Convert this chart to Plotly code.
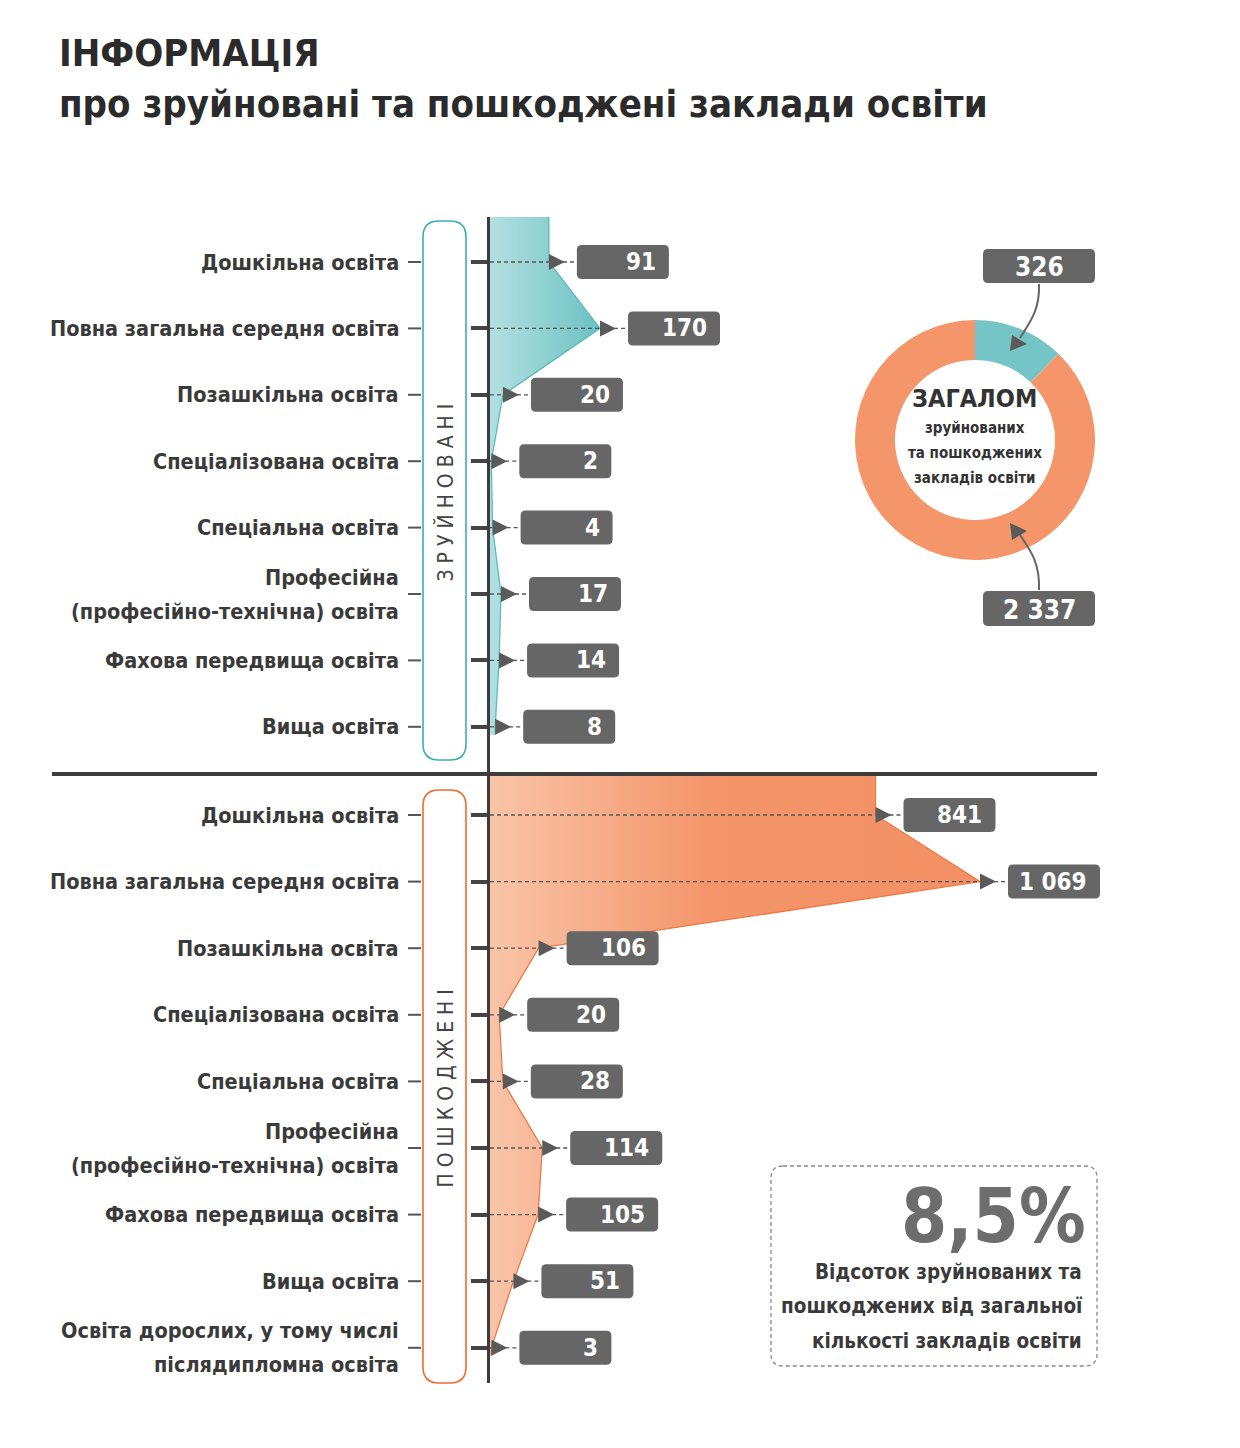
import plotly.graph_objects as go

W, H = 1240, 1448
PAGE_OFF = 8  # default body margin of the html page

# ---- data ----
categories_destroyed = [
    "Дошкільна освіта",
    "Повна загальна середня освіта",
    "Позашкільна освіта",
    "Спеціалізована освіта",
    "Спеціальна освіта",
    "Професійна<br>(професійно-технічна) освіта",
    "Фахова передвища освіта",
    "Вища освіта",
]
destroyed = [91, 170, 20, 2, 4, 17, 14, 8]

categories_damaged = categories_destroyed + [
    "Освіта дорослих, у тому числі<br>післядипломна освіта",
]
damaged = [841, 1069, 106, 20, 28, 114, 105, 51, 3]

share_text = "8,5%"
share_caption = ["Відсоток зруйнованих та", "пошкоджених від загальної", "кількості закладів освіти"]
donut_caption = ["зруйнованих", "та пошкоджених", "закладів освіти"]

TEAL = "#76c5c6"
ORANGE = "#f4956a"
DARK = "#3d3d3d"
BOX = "#666666"
FONT = "Liberation Sans Narrow, DejaVu Sans Condensed, Open Sans, sans-serif"


def px_x(p):
    return (p - PAGE_OFF) / W


def px_y(p):
    return 1 - (p - PAGE_OFF) / H


def fmt(v):
    return f"{v:,}".replace(",", " ")


def ppath(cmds):
    out = ""
    for cmd, *coords in cmds:
        xy = [f"{px_x(coords[i]):.5f},{px_y(coords[i + 1]):.5f}" for i in range(0, len(coords), 2)]
        out += cmd + " " + " ".join(xy) + " "
    return out


def rrect(x0, y0, x1, y1, r):
    # rounded rectangle in page pixels -> paper path
    return ppath([
        ("M", x0 + r, y0), ("L", x1 - r, y0), ("Q", x1, y0, x1, y0 + r),
        ("L", x1, y1 - r), ("Q", x1, y1, x1 - r, y1), ("L", x0 + r, y1),
        ("Q", x0, y1, x0, y1 - r), ("L", x0, y0 + r), ("Q", x0, y0, x0 + r, y0),
    ]) + "Z"


def note(x, y, text, size, color="#3a3a3a", xanchor="center", bold=True, **kw):
    return dict(x=px_x(x), y=px_y(y), xref="paper", yref="paper", text=text, showarrow=False,
                xanchor=xanchor, yanchor="middle",
                font=dict(family=FONT, size=size, color=color, weight="bold" if bold else "normal"), **kw)


fig = go.Figure()

# section geometry (pixels -> axis units)
sections = [
    dict(vals=destroyed, cats=categories_destroyed, xa="x", ya="y", top=217, bot=775,
         row0=262, step=66.4, unit=110 / 170, line="#5bbcbd",
         grad=[[0, "#b3e0e0"], [1, "#6cc1c2"]], frame="#3aafb0",
         side="З Р У Й Н О В А Н І", frame_y=(221, 760)),
    dict(vals=damaged, cats=categories_damaged, xa="x2", ya="y2", top=775, bot=1383,
         row0=815, step=66.6, unit=490 / 1069, line="#f07a45",
         grad=[[0, "#f9c4a8"], [0.45, "#f4956a"], [1, "#f39064"]], frame="#f06a2e",
         side="П О Ш К О Д Ж Е Н І", frame_y=(790, 1383)),
]

shapes = []
annotations = []
x0_px, x1_px = 490, 1110

for k, s in enumerate(sections):
    n = len(s["vals"])
    rows = list(range(n))
    y_top = (s["top"] - s["row0"]) / s["step"]
    y_bot = (s["bot"] - s["row0"]) / s["step"]
    x_max = (x1_px - x0_px) / s["unit"]
    sfx = "" if k == 0 else "2"
    fig.update_layout(**{
        "xaxis" + sfx: dict(domain=[px_x(x0_px), px_x(x1_px)], range=[0, x_max], anchor=s["ya"],
                            visible=False, fixedrange=True),
        "yaxis" + sfx: dict(domain=[px_y(s["bot"]), px_y(s["top"])], range=[y_bot, y_top],
                            anchor=s["xa"], tickvals=rows, showticklabels=False, ticks="outside",
                            ticklen=16, tickwidth=4, tickcolor="#444", showline=True, linewidth=3,
                            linecolor=DARK, showgrid=False, zeroline=False, fixedrange=True),
    })

    # filled shape
    px = [s["vals"][0]] + s["vals"] + [s["vals"][-1]]
    py = [y_top] + rows + [rows[-1] + 0.12]
    fig.add_trace(go.Scatter(
        x=px, y=py, xaxis=s["xa"], yaxis=s["ya"], mode="lines", fill="tozerox",
        fillgradient=dict(type="horizontal", colorscale=s["grad"]),
        line=dict(color=s["line"], width=1.3), hoverinfo="skip", showlegend=False))

    # dashed leaders
    lx, ly = [], []
    for r, v in zip(rows, s["vals"]):
        lx += [0, v, None]
        ly += [r, r, None]
    fig.add_trace(go.Scatter(
        x=lx, y=ly, xaxis=s["xa"], yaxis=s["ya"], mode="lines",
        line=dict(color="#555", width=1.3, dash="4px,3px"), hoverinfo="skip", showlegend=False))

    for r, v, c in zip(rows, s["vals"], s["cats"]):
        shapes.append(dict(type="line", xref=s["xa"], yref=s["ya"], xsizemode="pixel", xanchor=v,
                           x0=14, x1=28, y0=r, y1=r, line=dict(color="#555", width=1.3, dash="4px,3px")))
        shapes.append(dict(type="path", xref=s["xa"], yref=s["ya"], xsizemode="pixel", ysizemode="pixel",
                           xanchor=v, yanchor=r, path="M 0,-8 L 16,0 L 0,8 Z",
                           fillcolor="#5a5a5a", line=dict(width=0)))
        shapes.append(dict(type="path", xref=s["xa"], yref=s["ya"], xsizemode="pixel", ysizemode="pixel",
                           xanchor=v, yanchor=r,
                           path="M 33,-17 L 115,-17 Q 120,-17 120,-12 L 120,12 Q 120,17 115,17 "
                                "L 33,17 Q 28,17 28,12 L 28,-12 Q 28,-17 33,-17 Z",
                           fillcolor=BOX, line=dict(width=0)))
        annotations.append(dict(x=v, y=r, xref=s["xa"], yref=s["ya"], text=fmt(v), showarrow=False,
                                xanchor="right", yanchor="middle", xshift=109,
                                font=dict(family=FONT, size=24, color="white", weight="bold")))
        # category label (multi-line labels get wider line spacing) and dash
        parts = c.split("<br>")
        for j, part in enumerate(parts):
            shift = ((len(parts) - 1) / 2 - j) * 34
            annotations.append(dict(x=px_x(401), y=r, xref="paper", yref=s["ya"], text=part,
                                    showarrow=False, xanchor="right", yanchor="middle", yshift=shift,
                                    font=dict(family=FONT, size=21.5, color="#3a3a3a", weight="bold")))
        shapes.append(dict(type="line", xref="paper", yref=s["ya"], x0=px_x(408), x1=px_x(421),
                           y0=r, y1=r, line=dict(color="#555", width=2)))

    # section frame and vertical label
    fy0, fy1 = s["frame_y"]
    shapes.append(dict(type="path", xref="paper", yref="paper", path=rrect(423, fy0, 466, fy1, 16),
                       line=dict(color=s["frame"], width=1.6), fillcolor="white", layer="below"))
    annotations.append(note(445, (fy0 + fy1) / 2 + 2, s["side"], 21, color="#444", bold=False,
                            textangle=-90))

# separator
shapes.append(dict(type="line", xref="paper", yref="paper", x0=px_x(52), x1=px_x(1097),
                   y0=px_y(774), y1=px_y(774), line=dict(color=DARK, width=4)))

# donut
total_destroyed = sum(destroyed)
total_damaged = sum(damaged)
fig.add_trace(go.Pie(
    values=[total_destroyed, total_damaged], labels=["Зруйновані", "Пошкоджені"],
    hole=0.667, sort=False, direction="clockwise", rotation=0,
    marker=dict(colors=[TEAL, ORANGE], line=dict(width=0)), textinfo="none",
    domain=dict(x=[px_x(855), px_x(1095)], y=[px_y(560), px_y(320)]), showlegend=False,
    hoverinfo="label+value"))

annotations.append(note(975, 399, "ЗАГАЛОМ", 25, color="#333"))
for yy, t in zip([428, 453, 478], donut_caption):
    annotations.append(note(975, yy, t, 15, color="#333"))

for (by0, by1), v in zip([(249, 283), (591, 626)], [total_destroyed, total_damaged]):
    shapes.append(dict(type="path", xref="paper", yref="paper", path=rrect(983, by0, 1095, by1, 5),
                       fillcolor=BOX, line=dict(width=0)))
    annotations.append(note(1039, (by0 + by1) / 2 + 1, fmt(v), 26, color="white"))

# curved pointers
shapes.append(dict(type="path", xref="paper", yref="paper", line=dict(color="#666", width=2),
                   path=ppath([("M", 1039, 284), ("C", 1040, 310, 1030, 322, 1020, 338)])))
shapes.append(dict(type="path", xref="paper", yref="paper", fillcolor="#5a5a5a", line=dict(width=0),
                   path=ppath([("M", 1010, 351), ("L", 1012, 335), ("L", 1027, 344)]) + "Z"))
shapes.append(dict(type="path", xref="paper", yref="paper", line=dict(color="#666", width=2),
                   path=ppath([("M", 1039, 590), ("C", 1040, 562, 1030, 550, 1020, 535)])))
shapes.append(dict(type="path", xref="paper", yref="paper", fillcolor="#5a5a5a", line=dict(width=0),
                   path=ppath([("M", 1010, 523), ("L", 1012, 540), ("L", 1027, 531)]) + "Z"))

# share box
shapes.append(dict(type="path", xref="paper", yref="paper", path=rrect(771, 1166, 1097, 1366, 12),
                   line=dict(color="#888", width=1.3, dash="4px,3px")))
annotations.append(note(1088, 1216, share_text, 74, color="#6d6d6d", xanchor="right"))
for yy, t in zip([1272, 1306, 1341], share_caption):
    annotations.append(note(1084, yy, t, 20.5, xanchor="right"))

# title
annotations.append(note(57, 53, "ІНФОРМАЦІЯ", 38, color="#2b2b2b", xanchor="left"))
annotations.append(note(57, 104, "про зруйновані та пошкоджені заклади освіти", 38,
                        color="#2b2b2b", xanchor="left"))

fig.update_layout(
    width=W, height=H, margin=dict(l=0, r=0, t=0, b=0),
    paper_bgcolor="white", plot_bgcolor="rgba(0,0,0,0)",
    shapes=shapes, annotations=annotations, showlegend=False,
    font=dict(family=FONT),
)

fig.write_html("out.html")
